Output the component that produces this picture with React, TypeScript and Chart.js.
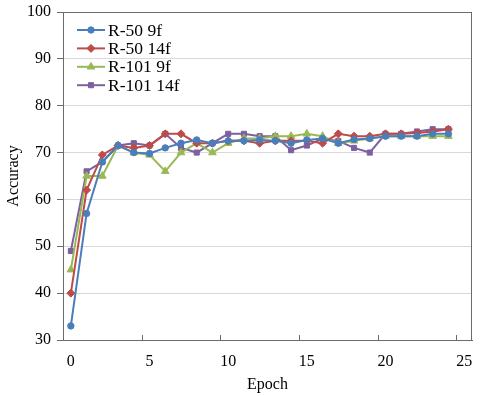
import React, { useEffect, useRef } from "react";
import { Chart, registerables } from "chart.js";

Chart.register(...registerables);

const epochs = [0, 1, 2, 3, 4, 5, 6, 7, 8, 9, 10, 11, 12, 13, 14, 15, 16, 17, 18, 19, 20, 21, 22, 23, 24];
const r50_9f = [33, 57, 68, 71.5, 70, 69.8, 71, 72, 72.7, 72, 72.5, 72.5, 72.7, 72.5, 72, 72.7, 73, 72, 72.8, 73, 73.5, 73.5, 73.5, 74, 74];
const r50_14f = [40, 62, 69.5, 71.5, 71, 71.5, 74, 74, 72, 72, 72.5, 72.5, 72, 72.5, 72.5, 72.5, 72, 74, 73.5, 73.5, 74, 74, 74.2, 74.5, 75];
const r101_9f = [45, 65, 65, 71.5, 70, 69.5, 66, 70, 72, 70, 72, 73, 73, 73.5, 73.5, 74, 73.5, 72, 72.5, 73, 73.5, 73.5, 73.5, 73.5, 73.5];
const r101_14f = [49, 66, 68, 71.5, 72, 71.5, 74, 71, 70, 72, 74, 74, 73.5, 73.5, 70.5, 71.5, 73, 72.5, 71, 70, 74, 74, 74.5, 75, 75];
const seriesNames = ["R-50 9f", "R-50 14f", "R-101 9f", "R-101 14f"];
const xTickValues = [0, 5, 10, 15, 20, 25];
const yTickValues = [30, 40, 50, 60, 70, 80, 90, 100];

const COLORS = ["#4A7EBB", "#BE4B48", "#98B954", "#7D60A0"];
const STYLES = ["circle", "rectRot", "triangle", "rect"];
const RADII = [3.2, 4, 4.4, 3.6];
const FONT = "'Liberation Serif', 'Times New Roman', serif";
const AXIS = "#6b6b6b";

function drawMarker(ctx: CanvasRenderingContext2D, style: string, r: number, x: number, y: number) {
  ctx.beginPath();
  if (style === "circle") {
    ctx.arc(x, y, r, 0, Math.PI * 2);
  } else if (style === "rect") {
    const s = r * Math.SQRT1_2;
    ctx.rect(x - s, y - s, 2 * s, 2 * s);
  } else if (style === "rectRot") {
    ctx.moveTo(x, y - r);
    ctx.lineTo(x + r, y);
    ctx.lineTo(x, y + r);
    ctx.lineTo(x - r, y);
  } else {
    ctx.moveTo(x, y - r);
    ctx.lineTo(x + r * 0.866, y + r * 0.5);
    ctx.lineTo(x - r * 0.866, y + r * 0.5);
  }
  ctx.closePath();
  ctx.fill();
  ctx.stroke();
}

const framePlugin = {
  id: "frame",
  beforeDatasetsDraw(chart: any) {
    const { ctx, chartArea } = chart;
    const xs = chart.scales.x;
    ctx.save();
    ctx.strokeStyle = AXIS;
    ctx.lineWidth = 1;
    ctx.strokeRect(
      Math.round(chartArea.left) + 0.5,
      Math.round(chartArea.top) + 0.5,
      Math.round(chartArea.right - chartArea.left) - 1,
      Math.round(chartArea.bottom - chartArea.top)
    );
    for (const v of xTickValues) {
      const px = Math.round(xs.getPixelForValue(v - 0.5)) + 0.5;
      ctx.beginPath();
      ctx.moveTo(px, chartArea.bottom);
      ctx.lineTo(px, chartArea.bottom - 5);
      ctx.stroke();
    }
    ctx.restore();
  },
  afterDraw(chart: any) {
    const { ctx, chartArea } = chart;
    ctx.save();
    ctx.font = `17.5px ${FONT}`;
    ctx.textBaseline = "middle";
    ctx.textAlign = "left";
    chart.data.datasets.forEach((ds: any, i: number) => {
      const y = chartArea.top + 18 + i * 18.4;
      const x0 = chartArea.left + 14;
      const x1 = x0 + 28;
      ctx.strokeStyle = ds.borderColor;
      ctx.lineWidth = 2;
      ctx.beginPath();
      ctx.moveTo(x0, y);
      ctx.lineTo(x1, y);
      ctx.stroke();
      ctx.fillStyle = ds.borderColor;
      ctx.lineWidth = 1;
      drawMarker(ctx, ds.pointStyle, ds.pointRadius, (x0 + x1) / 2, y);
      ctx.fillStyle = "#000";
      ctx.fillText(ds.label, x1 + 3, y + 1);
    });
    ctx.restore();
  },
};

export default function App() {
  const ref = useRef<HTMLCanvasElement | null>(null);
  useEffect(() => {
    document.body.style.margin = "0";
    const all = [r50_9f, r50_14f, r101_9f, r101_14f];
    const chart = new Chart(ref.current as HTMLCanvasElement, {
      type: "line",
      data: {
        datasets: all.map((vals, i) => ({
          label: seriesNames[i],
          data: epochs.map((e, j) => ({ x: e, y: vals[j] })),
          borderColor: COLORS[i],
          backgroundColor: COLORS[i],
          pointBackgroundColor: COLORS[i],
          pointBorderColor: COLORS[i],
          borderWidth: 2,
          pointBorderWidth: 1,
          pointStyle: STYLES[i],
          pointRadius: RADII[i],
          tension: 0,
          fill: false,
        })),
      },
      options: {
        animation: false,
        responsive: false,
        events: [],
        layout: { padding: { top: 12, right: 8, left: 0, bottom: 0 } },
        plugins: { legend: { display: false }, tooltip: { enabled: false } },
        scales: {
          x: {
            type: "linear",
            min: -0.5,
            max: 25.5,
            afterBuildTicks: (s: any) => {
              s.ticks = xTickValues.map((v) => ({ value: v }));
            },
            afterFit: (s: any) => {
              s.height = 56;
              s.paddingLeft = 0;
              s.paddingRight = 0;
            },
            grid: { drawOnChartArea: false, drawTicks: false },
            border: { color: AXIS, width: 1 },
            ticks: { color: "#000", font: { family: FONT, size: 16 }, padding: 12, maxRotation: 0 },
            title: { display: true, text: "Epoch", color: "#000", font: { family: FONT, size: 16 }, padding: { top: 0, bottom: 2 } },
          },
          y: {
            type: "linear",
            min: 30,
            max: 100,
            afterBuildTicks: (s: any) => {
              s.ticks = yTickValues.map((v) => ({ value: v }));
            },
            afterFit: (s: any) => {
              s.width = 63;
              s.paddingTop = 0;
              s.paddingBottom = 0;
            },
            grid: { color: "#d9d9d9", tickColor: AXIS, tickLength: 6, drawTicks: true },
            border: { color: AXIS, width: 1 },
            ticks: { color: "#000", font: { family: FONT, size: 16 }, padding: 6 },
            title: { display: true, text: "Accuracy", color: "#000", font: { family: FONT, size: 16 }, padding: { top: 4, bottom: 0 } },
          },
        },
      },
      plugins: [framePlugin],
    } as any);
    return () => chart.destroy();
  }, []);
  return (
    <div style={{ width: 480, height: 396, background: "#fff" }}>
      <canvas ref={ref} width={480} height={396} style={{ display: "block" }} />
    </div>
  );
}
